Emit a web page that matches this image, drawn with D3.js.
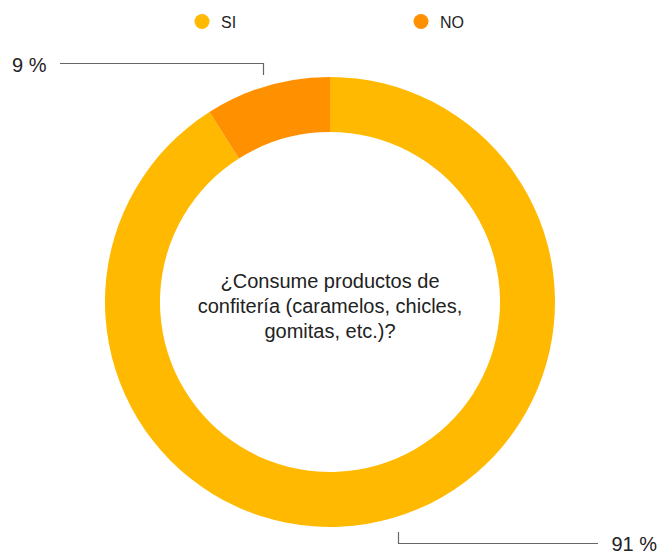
<!DOCTYPE html>
<html>
<head>
<meta charset="utf-8">
<script src="https://cdn.jsdelivr.net/npm/d3@7"></script>
<style>
  html, body { margin: 0; padding: 0; background: #fff; }
  svg { display: block; font-family: "Liberation Sans", Arial, Helvetica, sans-serif; }
</style>
</head>
<body>
<svg id="chart" width="661" height="552"></svg>
<script>
// Survey answers and their shares (percent)
const categories = ["SI", "NO"];
const values = [91, 9];
const colors = ["#FFB900", "#FF9000"];
const centerLines = ["¿Consume productos de", "confitería (caramelos, chicles,", "gomitas, etc.)?"];

const svg = d3.select("#chart");
const cx = 330, cy = 302;
const outerR = 225, innerR = 170;
const textColor = "#222";

// Legend
const legendX = [202, 421];
const legend = svg.append("g").selectAll("g")
  .data(categories)
  .join("g")
  .attr("transform", (d, i) => `translate(${legendX[i]},21.5)`);
legend.append("circle").attr("r", 7.5).attr("fill", (d, i) => colors[i]);
legend.append("text")
  .attr("x", 19).attr("y", 6.5)
  .attr("font-size", 16).attr("fill", textColor)
  .text(d => d);

// Donut: SI runs clockwise from 12 o'clock, NO fills the remainder
const pie = d3.pie().sort(null).value(d => d);
const arcs = pie(values);
const arc = d3.arc().innerRadius(innerR).outerRadius(outerR);

const g = svg.append("g").attr("transform", `translate(${cx},${cy})`);
g.selectAll("path")
  .data(arcs)
  .join("path")
  .attr("d", arc)
  .attr("fill", (d, i) => colors[i]);

// Question text in the hole
g.append("text")
  .attr("text-anchor", "middle")
  .attr("font-size", 20).attr("fill", textColor)
  .selectAll("tspan")
  .data(centerLines)
  .join("tspan")
  .attr("x", 0)
  .attr("y", (d, i) => -14 + i * 25)
  .text(d => d);

// Leader lines and percentage labels
const fmt = v => `${v} %`;
const lineColor = "#666";

// NO label (top-left)
svg.append("path")
  .attr("d", "M60,63.5H263.5V75")
  .attr("fill", "none").attr("stroke", lineColor).attr("stroke-width", 1.2);
svg.append("text")
  .attr("x", 12).attr("y", 72)
  .attr("font-size", 20).attr("fill", textColor)
  .text(fmt(values[1]));

// SI label (bottom-right)
svg.append("path")
  .attr("d", "M398.5,532V543.5H598")
  .attr("fill", "none").attr("stroke", lineColor).attr("stroke-width", 1.2);
svg.append("text")
  .attr("x", 657).attr("y", 551)
  .attr("text-anchor", "end")
  .attr("font-size", 20).attr("fill", textColor)
  .text(fmt(values[0]));
</script>
</body>
</html>
